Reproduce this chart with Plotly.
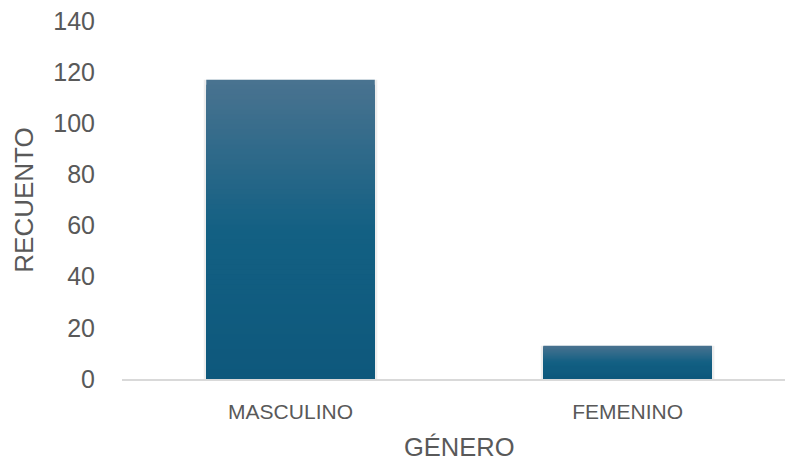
import plotly.graph_objects as go

categories = ["MASCULINO", "FEMENINO"]
values = [117, 13]
y_ticks = [0, 20, 40, 60, 80, 100, 120, 140]

TEXT = "#595959"
FONT = "Liberation Sans, Arial, sans-serif"

# gradient stops (fraction from top of bar, rgb)
stops = [(0.0, (74, 115, 144)), (0.5, (19, 96, 131)), (1.0, (14, 88, 124))]

def color_at(t):
    for (t0, c0), (t1, c1) in zip(stops[:-1], stops[1:]):
        if t0 <= t <= t1:
            f = (t - t0) / (t1 - t0)
            c = [round(a + (b - a) * f) for a, b in zip(c0, c1)]
            return "rgb(%d,%d,%d)" % tuple(c)
    return "rgb(%d,%d,%d)" % stops[-1][1]

fig = go.Figure()

# soft shadow behind bars
fig.add_trace(go.Bar(x=categories, y=values, width=0.515,
                     marker=dict(color="rgba(0,0,0,0.07)", line=dict(width=0)),
                     hoverinfo="skip", showlegend=False))

N = 60
for i in range(N):
    t = i / N
    fig.add_trace(go.Bar(
        x=categories, y=[v * (1 - t) for v in values], width=0.5,
        marker=dict(color=color_at(t + 0.5 / N), line=dict(width=0)),
        hoverinfo="skip", showlegend=False))

fig.update_layout(
    barmode="overlay",
    width=785, height=465,
    margin=dict(l=122, r=0, t=21, b=86),
    paper_bgcolor="white", plot_bgcolor="white",
    font=dict(family=FONT, color=TEXT),
    xaxis=dict(
        type="category", range=[-0.5, 1.467],
        showgrid=False, zeroline=False,
        showline=True, linecolor="#d9d9d9", linewidth=1.5,
        ticks="", tickfont=dict(size=21, color=TEXT),
        ticklabelstandoff=13,
    ),
    yaxis=dict(
        range=[0, 140], tickvals=y_ticks,
        showgrid=False, zeroline=False, showline=False,
        ticks="", tickfont=dict(size=25, color=TEXT),
        ticklabelstandoff=26,
        title=dict(text="RECUENTO", font=dict(size=26, color=TEXT), standoff=12),
    ),
    annotations=[dict(
        text="GÉNERO", x=0.5, xref="x", y=-0.19, yref="paper",
        yanchor="middle", showarrow=False,
        font=dict(size=25.5, color=TEXT, family=FONT),
    )],
)

fig.write_html("out.html")
